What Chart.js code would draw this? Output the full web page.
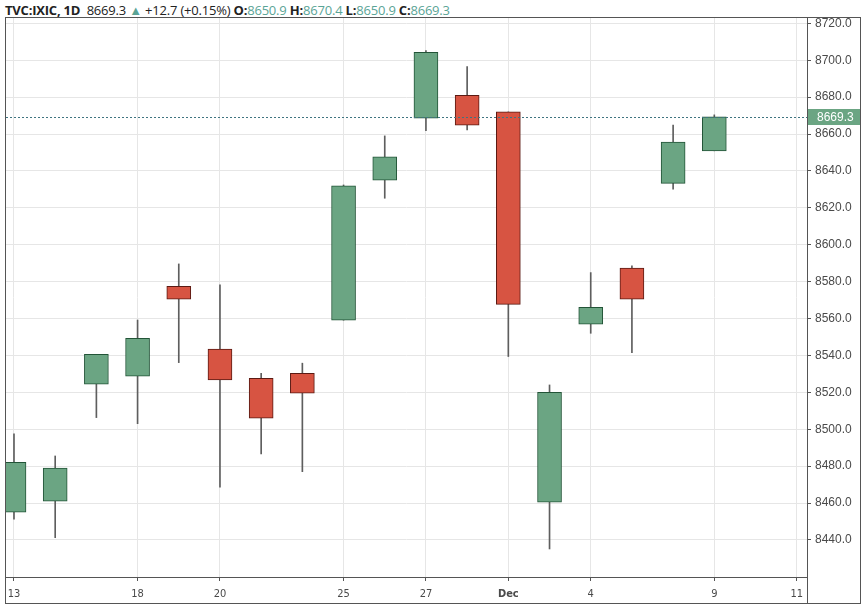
<!DOCTYPE html>
<html>
<head>
<meta charset="utf-8">
<script src="https://cdn.jsdelivr.net/npm/chart.js@4.4.1/dist/chart.umd.min.js"></script>
<style>
  body { margin: 0; background: #fff; }
  #head { position: absolute; left: 5px; top: 1px; font: 13px "Open Sans", sans-serif; color: #222; white-space: nowrap; letter-spacing: -0.2px; }
  #head b { font-weight: 700; }
  #head .v { color: #5aa496; }
  #head .up { color: #5aa496; font-size: 13px; }
  #frame { position: absolute; left: 5px; top: 17px; width: 854px; height: 585px; border: 1px solid #555; }
  #frame canvas { display: block; }
</style>
</head>
<body>
<div id="head"><b>TVC:IXIC, 1D</b>&nbsp; 8669.3 <span class="up">&#9650;</span> +12.7 (+0.15%) <b>O:</b><span class="v">8650.9</span> <b>H:</b><span class="v">8670.4</span> <b>L:</b><span class="v">8650.9</span> <b>C:</b><span class="v">8669.3</span></div>
<div id="frame"><canvas id="chart" width="854" height="585"></canvas></div>
<script>
// trading days, 13 Nov .. 11 Dec (10 and 11 Dec have no candle yet)
const days = ['13', '14', '15', '18', '19', '20', '21', '22', '25', '26', '27', '29', '2', '3', '4', '5', '6', '9', '10', '11'];

const open  = [8455.0, 8461.0, 8524.4, 8528.7, 8577.5, 8543.4, 8527.6, 8530.3, 8559.1, 8635.0, 8668.6, 8681.0, 8672.0, 8460.4, 8556.9, 8587.3, 8633.3, 8650.9];
const high  = [8497.5, 8485.5, 8540.6, 8559.2, 8589.6, 8578.2, 8530.3, 8535.8, 8632.4, 8659.0, 8705.2, 8696.5, 8672.0, 8524.0, 8584.9, 8588.5, 8664.9, 8670.4];
const low   = [8451.2, 8441.2, 8506.3, 8503.0, 8536.1, 8468.6, 8486.6, 8477.0, 8559.1, 8625.2, 8661.8, 8662.2, 8539.4, 8435.1, 8552.0, 8541.5, 8630.1, 8650.9];
const close = [8482.1, 8478.9, 8540.6, 8549.3, 8570.5, 8526.7, 8506.0, 8519.5, 8631.9, 8647.6, 8704.3, 8664.8, 8567.7, 8520.0, 8566.1, 8570.5, 8655.6, 8669.3];

const xTickIdx = [0, 3, 5, 8, 10, 12, 14, 17, 19];
const xTickLabels = ['13', '18', '20', '25', '27', 'Dec', '4', '9', '11'];
const yTicks = [8440, 8460, 8480, 8500, 8520, 8540, 8560, 8580, 8600, 8620, 8640, 8660, 8680, 8700, 8720];
const lastPrice = 8669.3;

const upFill = '#6ba583', upLine = '#225437';
const downFill = '#d75442', downLine = '#5b1a13';

const isUp = open.map((o, i) => close[i] >= o);

const bodies = open.map((o, i) => ({ x: i, y: [o, close[i]] }));
const wicks = low.map((l, i) => ({ x: i, y: [l, high[i]] }));

const extras = {
  id: 'extras',
  afterDatasetsDraw(chart) {
    const { ctx, chartArea, scales } = chart;
    const y = Math.round(scales.y.getPixelForValue(lastPrice)) + 0.5;
    ctx.save();
    ctx.strokeStyle = '#3f7480';
    ctx.lineWidth = 1;
    ctx.setLineDash([2, 2]);
    ctx.beginPath();
    ctx.moveTo(chartArea.left, y);
    ctx.lineTo(chartArea.right, y);
    ctx.stroke();
    ctx.restore();
  },
  afterDraw(chart) {
    const { ctx, chartArea, scales } = chart;
    const y = scales.y.getPixelForValue(lastPrice);
    ctx.save();
    // axis separator runs down to the frame
    ctx.strokeStyle = '#555';
    ctx.lineWidth = 1;
    ctx.beginPath();
    ctx.moveTo(chartArea.right + 0.5, chartArea.bottom);
    ctx.lineTo(chartArea.right + 0.5, chart.height);
    ctx.stroke();
    // last price label
    ctx.fillStyle = upFill;
    ctx.fillRect(chartArea.right + 1, Math.round(y) - 8, chart.width - chartArea.right - 1, 16);
    ctx.fillStyle = '#fff';
    ctx.font = '12px "Liberation Sans", sans-serif';
    ctx.textBaseline = 'middle';
    ctx.fillText(lastPrice.toFixed(1), chartArea.right + 10, Math.round(y) + 0.5);
    ctx.restore();
  }
};

new Chart(document.getElementById('chart'), {
  type: 'bar',
  data: {
    datasets: [
      {
        data: bodies,
        order: 0,
        grouped: false,
        barThickness: 24,
        backgroundColor: isUp.map(u => u ? upFill : downFill),
        borderColor: isUp.map(u => u ? upLine : downLine),
        borderWidth: 1,
        borderSkipped: false
      },
      {
        data: wicks,
        order: 1,
        grouped: false,
        barThickness: 1,
        backgroundColor: '#5e5e5e',
        borderWidth: 0
      }
    ]
  },
  options: {
    responsive: false,
    animation: false,
    layout: { padding: 0 },
    plugins: { legend: { display: false }, tooltip: { enabled: false } },
    scales: {
      x: {
        type: 'linear',
        offset: false,
        min: -0.194,
        max: 19.25,
        afterBuildTicks: s => { s.ticks = xTickIdx.map(v => ({ value: v })); },
        afterFit: s => { s.height = 26; s.paddingLeft = 0; s.paddingRight = 0; },
        ticks: {
          autoSkip: false,
          maxRotation: 0,
          padding: 7,
          color: '#4a4a4a',
          font: ctx => ({
            family: '"Liberation Sans Narrow", "DejaVu Sans Condensed", "Liberation Sans", sans-serif',
            size: 11,
            weight: xTickLabels[ctx.index] === 'Dec' ? 'bold' : 'normal'
          }),
          callback: (v, i) => xTickLabels[i]
        },
        grid: { offset: false, color: '#e6e6e6', tickColor: '#555', tickLength: 4 },
        border: { color: '#555' }
      },
      y: {
        position: 'right',
        min: 8419.9,
        max: 8722.9,
        afterBuildTicks: s => { s.ticks = yTicks.map(v => ({ value: v })); },
        afterFit: s => { s.width = 53; s.paddingTop = 0; s.paddingBottom = 0; },
        ticks: {
          padding: 4,
          color: '#4a4a4a',
          font: { family: '"Liberation Sans", sans-serif', size: 12 },
          callback: v => v.toFixed(1)
        },
        grid: { color: '#e6e6e6', tickColor: '#555', tickLength: 4 },
        border: { color: '#555' }
      }
    }
  },
  plugins: [extras]
});
</script>
</body>
</html>
